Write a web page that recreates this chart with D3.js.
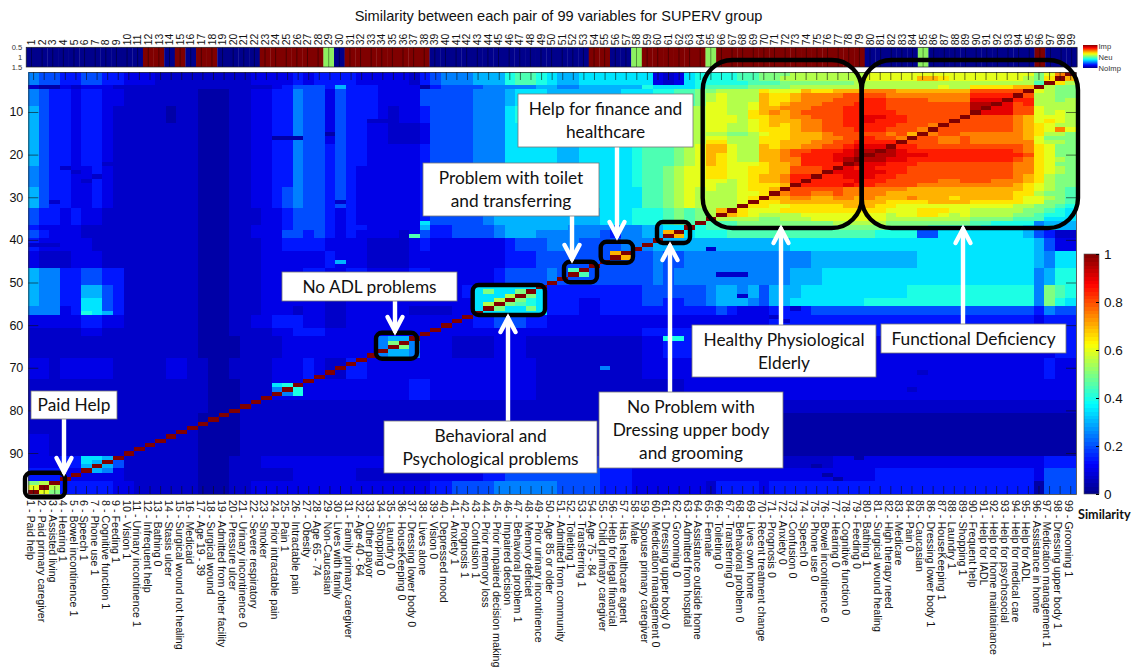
<!DOCTYPE html>
<html><head><meta charset="utf-8">
<script src="https://cdn.jsdelivr.net/npm/d3@7/dist/d3.min.js"></script>
<style>html,body{margin:0;padding:0;background:#fff}svg{display:block}</style>
</head><body><svg id="c" width="1141" height="670"></svg>
<script>
const titleText = "Similarity between each pair of 99 variables for SUPERV group";
const variableNames = ["Paid help","Paid primary caregiver","Assisted living","Hearing 1","Bowel incontinence 1","Speech 1","Phone use 1","Cognitive function 1","Feeding 1","Vision 1","Urinary incontinence 1","Infrequent help","Bathing 0","Stasis ulcer","Surgical wound not healing","Medicaid","Age 19 - 39","Surgical wound","Admitted from other facility","Pressure ulcer","Urinary incontinence 0","Severe respiratory","Smoker","Prior intractable pain","Pain 1","Intractable pain","Obesity","Age 65 - 74","Non-Caucasian","Lives with family","Family primary caregiver","Age 40 - 64","Other payor","Shopping 0","Laundry 0","HouseKeeping 0","Dressing lower body 0","Lives alone","Vision 0","Depressed mood","Anxiety 1","Prognosis 1","Confusion 1","Prior memory loss","Prior impaired decision making","Impaired decision","Behavioral problem 1","Memory deficiet","Prior urinary incontinence","Age 85 or older","Admitted from community","Toileting 1","Transferring 1","Age 75 - 84","Child primary caregiver","Help for legal financial","Has healthcare agent","Male","Spouse primary caregiver","Medication management 0","Dressing upper body 0","Grooming 0","Admitted from hospital","Assistance outside home","Female","Toileting 0","Transferring 0","Behavioral problem 0","Lives own home","Recent treatment change","Prognosis 0","Anxiety 0","Confusion 0","Speech 0","Phone use 0","Bowel incontinence 0","Hearing 0","Cognitive function 0","Feeding 0","Bathing 1","Surgical wound healing","High therapy need","Medicare","Pain 0","Caucasian","Dressing lower body 1","HouseKeeping 1","Laundry 1","Shopping 1","Frequent help","Help for IADL","Help for home maintainance","Help for psychosocial","Help for medical care","Help for ADL","Assistance in home","Medication management 1","Dressing upper body 1","Grooming 1"];
const importantVars = [12,13,15,17,18,23,24,25,26,27,28,31,32,33,34,35,36,37,38,54,55,59,60,61,62,63,64,66,67,68,69,70,71,72,73,74,75,76,77,78,79,96];
const neutralVars = [29,58,65,85];
const rowTicks = [10,20,30,40,50,60,70,80,90];
const barTicks = [0,0.2,0.4,0.6,0.8,1];
const levelChars = "0123456789abcdefghijk";
const lowestLevels = [0.035,0.07];

// rows 1-36, columns 1-64
const upperLeftStarts = [1,4,5,9,13,18,23,28,33];
const upperLeftBands = [
"5443344332 2211111111 1222232333 3222221345 5566689987 6677777772 1278",
"1002122211 1111111111 1112344436 3332222034 4445555566 5566666687 7778",
"5433233221 1111110001 1223354424 3332222444 4455567776 6666667778 899a",
"6433233211 1110110001 1223354424 3332122344 4455578887 6677777888 8abb",
"6433233211 1111110001 1223354424 3322111244 4455577777 6677777788 9abb",
"6433233211 1111110001 1223354434 3322222344 4455577777 6677777899 9abc",
"5433223211 1111110001 1223354434 3222222344 4455667766 6677777899 abcc",
"6433223211 1111110001 1223454434 3222222344 4455667766 6677777799 abcb",
"4332322111 1111110001 1122344432 3222222344 4445666666 6666777888 9a9a"];
// rows 1-36, columns 65-99, one string per row
const upperRightRows = [
"88899aaabbbbbbb cccccccccc ccccccacfk",
"88899aabbbbbbbb ccccceedcc cccccbadke",
"8888999aaaaaaab bbbbbbbbbb bbbbbb9kdb",
"9999aaaabbbbbbb bbbbbbbcbb ddddeekbaa",
"abbbbdccceddeee fffeeeeeee gggggkcbaa",
"bcbbbeddeffffgg ggffffffff hhhhkgbbaa",
"bcbbbeddefffggg hhggggffff iiikhhbbab",
"ccbbcedefffgggh hhgggggggg jjkighbbbb",
"ccbbceefffggghh hhgggggggg jkiiggcbbb",
"ccbbdefefgggghh hhhggggggg kiiiggcbcb",
"cccbddeeffggghh iihhgggggk ggggfecccb",
"cccbcdeeeffgghh ihhhggggkg ggggfecdcb",
"ccbbcdedeffgghh hhhgggfkgg ggggfedcbb",
"ccbbcdddeffgggh hhgggfkggg ggggfedcfc",
"bbaabcddeeefggg ggfgekfggf fffffedbba",
"ccbbbdddeeeffgg hggfkggffg fffffecaaa",
"ddbbbddeeeffggh hhhkgggffg ffffffcbba",
"eecbbedeeffgghi iikhhggggg gggggfdcaa",
"eecbbeefgghhhij jkjihhhhhh hhhhgfdcaa",
"edcbbeefghhhiij kjjiiihhhh hhhhhgdcaa",
"edcbbeeffhhhijk jjiihhhhhh hhhhgfdcba",
"edcccdeefhhhhkj iihhhggggg ggggffdcaa",
"ddccddeeggghkih ihhhgggggg ggggffdcba",
"ddccddeegggkiii iihhgggggg ggggffdcba",
"ddccdeefhhkhhii ihhggggggg ggggfedbaa",
"ccbcdeefhkhhhhi hhgggggffg ggfffedbaa",
"cbbcdddekhhhhih hggggfffff ffffedcbaa",
"cbbcddekgggggff ffffeeeeee eeeeedcba9",
"bbbccdkfggffgff ffeeeeeeee eeeeddbaa9",
"bbbcdkeeffeeffe feeefeeede eeeedccba9",
"bbbckddeeeeeeee eeddddeeee dddddccaa9",
"bbbkddccdddddee eddccccccc ccccbbaa98",
"bekdcccdddddddd ddcccdddcc bbbbbaa987",
"bkedcbbbbcccccc ccbccddcbc bbbbaa9887",
"kbbbbaabbbccccc ccbbbbbbbb aaaa999777",
"999aaaaaaaaabbb bbaaaaaaaa 9988885666"];
// rows 37-99, all columns
const lowerStarts = [37,38,40,43,47,51,54,56,58,61,63,68,73,78,81,86,91,94,97];
const lowerBands = [
"3222211111 1111110001 1222344432 3322222633 4444566666 6555545566 7788999aaa aaaaaaaaaa aaaaa99999 888875766",
"4322211111 1111110001 1222443432 3222212433 4444566655 5555435566 7778889999 9999999999 8888447777 777764311",
"3222221111 1111110001 1122333322 2211112322 2222234445 5544445556 6666666666 6677777777 7777777777 777776422",
"2111222111 1111110001 1122222232 2211112222 2222233344 4444444445 4455555555 5555666666 6666777777 777776577",
"6553344331 1111110001 1122223322 3322223322 2222344445 4444444445 4555555555 5566677777 7777777777 777775688",
"6553366431 1111110001 1122222211 2222223322 2377777773 3333333344 4444566564 6667777777 7778888888 888885a98",
"6553377431 1111110001 1122222211 2222222222 2277899873 3322333344 3344566654 6677777778 8888888888 888885a87",
"5552377431 1111110001 1122212211 2222221111 2277777773 3322333333 3333343222 3333444444 4444444444 444443544",
"2222233221 1111110001 1223332211 2222222222 2233444332 2222222222 2222222222 3333333333 3333333333 333332333",
"1111122111 1111110001 1112233322 2222222222 2222222222 2222222233 3333333333 3333333333 3333333333 333332333",
"1111111111 1111110000 1111222222 2225665222 1111222111 1111111122 3333222222 2222222222 2222222222 222222233",
"2212222211 1112211001 1112223211 3322222222 2222222211 1111111122 2222222222 2222222222 2222222222 222222322",
"1111111111 1111111000 1112222222 2222223322 2222222211 1111111111 1122222222 2222222222 2222222222 222222222",
"1111111111 1111111000 1111111111 1111111111 1111111111 1111111111 1111111111 1111111111 1111111111 111111111",
"1111111111 1111110000 1111111111 1111111111 1111111111 1111111100 1000000000 0000000000 0000000000 000000000",
"2211111111 1111110000 1111111111 1111111111 1111111111 1111111110 0000000000 0000000000 0000000000 000000000",
"2223366541 1111110001 1122222222 2222222222 2222333333 3333222222 2222222222 2111112222 2222222222 222222333",
"3332222221 1111110001 1111122222 2111111122 2223344444 4444333222 2222222222 2222222222 3333333333 333332444",
"aab3333322 1111110001 1222222222 2222222233 4444555555 4444333222 2222133332 3333333333 3333333333 333330444"];
// single cells read separately: row, column, level
const spotRows = [3,16,16,16,15,23,24,26,25,22,21,31,31,41,41,41,45,45,45,12,12,13,14,36,39,42,48,48,48,53,58,59,56,71,75,91,93,95,96,57,57,57,55,56,54,55,53,54,52,53,56,52,51,64,65,74,74,75,75,76,76,63,63,70,92,92,91,91,91,93,93,94,94,92,93,97,97,98,98,99,99,43,44,38,39,47,48];
const spotCols = [60,24,25,26,29,4,5,6,7,8,9,3,30,1,2,3,2,3,30,33,34,35,37,38,37,65,66,67,68,68,71,72,73,85,84,79,75,76,77,6,7,8,44,45,45,46,46,47,47,48,48,44,45,35,36,24,25,24,26,25,26,61,62,55,6,7,6,7,8,6,8,7,8,9,9,1,2,1,3,2,3,56,57,61,62,52,53];
const spotLevels = [2,0,0,0,0,1,1,1,1,1,1,1,1,1,1,1,1,1,6,1,1,1,1,7,9,1,1,1,1,1,1,1,1,1,1,0,0,0,0,8,7,6,11,10,11,10,11,10,10,10,10,10,7,10,10,7,8,5,8,5,8,8,8,5,7,6,7,7,6,6,6,6,5,4,4,10,11,12,11,12,10,14,14,14,14,9,9];

const cols = d3.range(1,100), rows = d3.range(1,100);
const strip = s => s.replace(/ /g,"");
const levelValue = l => l < lowestLevels.length ? lowestLevels[l] : l/20;
const matrix = rows.map(() => new Array(99).fill(0));
rows.forEach(r => {
  if (r <= 36) {
    const t = strip(upperLeftBands[d3.bisectRight(upperLeftStarts, r) - 1]);
    const u = strip(upperRightRows[r-1]);
    if (t.length !== 64 || u.length !== 35) throw new Error("row "+r);
    for (let i=0;i<64;i++) matrix[r-1][i] = levelValue(levelChars.indexOf(t[i]));
    for (let i=0;i<35;i++) matrix[r-1][64+i] = levelValue(levelChars.indexOf(u[i]));
  } else {
    const t = strip(lowerBands[d3.bisectRight(lowerStarts, r) - 1]);
    if (t.length !== 99) throw new Error("row "+r);
    for (let i=0;i<99;i++) matrix[r-1][i] = levelValue(levelChars.indexOf(t[i]));
  }
});
spotRows.forEach((r,i) => { matrix[r-1][spotCols[i]-1] = levelValue(spotLevels[i]); });
cols.forEach(c => { matrix[99-c][c-1] = 1; });

const svg = d3.select("#c");
const sans = "'Liberation Sans', Arial, sans-serif", note = "Lato, 'Open Sans', sans-serif";

const x = d3.scaleBand().domain(cols).range([28.3,1076]);
const y = d3.scaleBand().domain(rows).range([72,494]);
const stripX = d3.scaleBand().domain(cols).range([26.2,1077]);
const stripY = d3.scaleLinear().domain([0.5,1.5]).range([47.3,67]);
const jet = d3.scaleLinear().domain([0,0.125,0.375,0.625,0.875,1]).range(["#000085","#0000ff","#00ffff","#ffff00","#ff0000","#800000"]).clamp(true);

svg.append("text").attr("x",558.5).attr("y",21).attr("text-anchor","middle").attr("font-family",sans).attr("font-size",14.6).attr("fill","#111").text(titleText);

// importance strip
const stripColor = c => importantVars.includes(c) ? "#800000" : neutralVars.includes(c) ? "#8cf060" : "#00008c";
svg.append("g").selectAll("rect").data(cols).join("rect")
  .attr("x",c=>stripX(c)).attr("y",stripY(0.5)).attr("width",stripX.bandwidth()+0.3).attr("height",stripY(1.5)-stripY(0.5))
  .attr("fill",stripColor);
svg.append("g").selectAll("line").data(cols).join("line")
  .attr("x1",c=>stripX(c)+stripX.bandwidth()/2).attr("x2",c=>stripX(c)+stripX.bandwidth()/2)
  .attr("y1",stripY(0.5)).attr("y2",stripY(1.5)).attr("stroke","#000").attr("stroke-opacity",0.5).attr("stroke-width",0.8);
svg.append("rect").attr("x",26.2).attr("y",47.3).attr("width",1050.8).attr("height",19.7).attr("fill","none").attr("stroke","#222").attr("stroke-width",0.7);
const stripTop = svg.append("g").attr("transform","translate(0,47.3)").call(d3.axisTop(stripX).tickValues(cols).tickSize(0).tickPadding(2));
stripTop.select(".domain").remove();
stripTop.selectAll("text").attr("transform","rotate(-90)").attr("x",2).attr("y",0).attr("dy","0.35em").attr("text-anchor","start").attr("font-family",sans).attr("font-size",10.4).attr("fill","#111");
const stripLeft = svg.append("g").attr("transform","translate(26.2,0)").call(d3.axisLeft(stripY).tickValues([0.5,1,1.5]).tickFormat(d3.format("~g")).tickSize(0).tickPadding(4));
stripLeft.select(".domain").remove();
stripLeft.selectAll("text").attr("font-family",sans).attr("font-size",7.6).attr("fill","#333");

// legend of the strip
const legendGrad = svg.append("defs").append("linearGradient").attr("id","lg").attr("x1",0).attr("x2",0).attr("y1",1).attr("y2",0);
d3.range(0,1.01,0.05).forEach(v => legendGrad.append("stop").attr("offset",v).attr("stop-color",jet(v)));
svg.select("defs").append("filter").attr("id","soft").attr("x","0").attr("y","0").attr("width","1").attr("height","1")
  .append("feGaussianBlur").attr("stdDeviation",0.6).attr("edgeMode","duplicate");
svg.append("rect").attr("x",1083).attr("y",45).attr("width",14.5).attr("height",23).attr("fill","url(#lg)");
[["Imp",49],["Neu",60],["NoImp",71]].forEach(([t,py]) => svg.append("text").attr("x",1098.5).attr("y",py).attr("font-family",sans).attr("font-size",7.6).attr("fill","#333").text(t));

// heat map
const cells = rows.flatMap(r => cols.map(c => ({r,c,v:matrix[r-1][c-1]})));
svg.append("g").attr("shape-rendering","crispEdges").attr("filter","url(#soft)").selectAll("rect").data(cells).join("rect")
  .attr("x",d=>x(d.c)).attr("y",d=>y(d.r)).attr("width",x.bandwidth()+0.4).attr("height",y.bandwidth()+0.4)
  .attr("fill",d=>jet(d.v));

// axes with inward ticks
const axisStyle = g => { g.select(".domain").attr("stroke","#333").attr("stroke-width",0.8); g.selectAll(".tick line").attr("stroke","#111").attr("stroke-opacity",0.75).attr("stroke-width",0.8); };
svg.append("g").attr("transform","translate(0,72)").call(d3.axisTop(x).tickValues(cols).tickFormat("").tickSizeInner(-8).tickSizeOuter(0)).call(axisStyle);
const bottom = svg.append("g").attr("transform","translate(0,494)").call(d3.axisBottom(x).tickValues(cols).tickFormat(c=>c+" - "+variableNames[c-1]).tickSizeInner(-8).tickSizeOuter(0)).call(axisStyle);
bottom.selectAll("text").attr("transform","rotate(90)").attr("x",6).attr("y",2.4).attr("dy","0.35em").attr("text-anchor","start").attr("font-family",sans).attr("font-size",10.7).attr("fill","#111");
const left = svg.append("g").attr("transform","translate(28.3,0)").call(d3.axisLeft(y).tickValues(rowTicks).tickSizeInner(-10).tickSizeOuter(0).tickPadding(5)).call(axisStyle);
left.selectAll("text").attr("font-family",sans).attr("font-size",12.5).attr("fill","#111");
svg.append("g").attr("transform","translate(1076,0)").call(d3.axisRight(y).tickValues(rowTicks).tickFormat("").tickSizeInner(-10).tickSizeOuter(0)).call(axisStyle);

// colour bar
const barY = d3.scaleLinear().domain([0,1]).range([494,254]);
const barSteps = d3.range(0,64).map(i => i/64);
svg.append("g").attr("shape-rendering","crispEdges").selectAll("rect").data(barSteps).join("rect")
  .attr("x",1084).attr("width",15).attr("y",d=>barY(d+1/64)).attr("height",barY(0)-barY(1/64)+0.4).attr("fill",d=>jet(d+1/128));
svg.append("rect").attr("x",1084).attr("y",254).attr("width",15).attr("height",240).attr("fill","none").attr("stroke","#555").attr("stroke-width",0.6);
const barAxis = svg.append("g").attr("transform","translate(1099,0)").call(d3.axisRight(barY).tickValues(barTicks).tickFormat(d3.format("~g")).tickSizeInner(-3).tickSizeOuter(0).tickPadding(5));
barAxis.select(".domain").remove();
barAxis.selectAll("text").attr("font-family",sans).attr("font-size",13.5).attr("fill","#111");
svg.append("text").attr("x",1078).attr("y",519).attr("font-family",note).attr("font-weight",700).attr("font-size",12.6).attr("fill","#111").text("Similarity");

// annotations
const outlines = [[702.7,60,159,168,30],[861.7,60,216.3,168,30],[25,472.7,40,24.5,6],[376,332.7,41,26,6],[472.7,285,72.3,30,6],[564,261.7,33,20.5,6],[600.7,241.7,32.3,21,6],[657,222,33,21,6]];
svg.append("g").selectAll("rect").data(outlines).join("rect")
  .attr("x",d=>d[0]).attr("y",d=>d[1]).attr("width",d=>d[2]).attr("height",d=>d[3]).attr("rx",d=>d[4])
  .attr("fill","none").attr("stroke","#000").attr("stroke-width",4.4);
const arrows = [[64,419,472],[395,301,331],[508,421,318],[572,216,259],[617,147,236],[670,392,246],[781,325,229],[963,324,229]];
const ag = svg.append("g").attr("stroke","#fff").attr("stroke-width",4.4).attr("fill","none").attr("stroke-linecap","round");
arrows.forEach(([ax,y0,y1]) => {
  const dir = y1 > y0 ? 1 : -1;
  ag.append("line").attr("x1",ax).attr("x2",ax).attr("y1",y0).attr("y2",y1);
  ag.append("path").attr("d",`M${ax-7.5},${y1-dir*14} L${ax},${y1} L${ax+7.5},${y1-dir*14}`);
});
const boxes = [
 [518,94,175,53,["Help for finance and","healthcare"]],
 [423,163,176,53,["Problem with toilet","and transferring"]],
 [282,272,175,29,["No ADL problems"]],
 [31,391,86,28,["Paid Help"]],
 [384,421,213,52,["Behavioral and","Psychological problems"]],
 [599,392,184,76,["No Problem with","Dressing upper body","and grooming"]],
 [692,325,184,52,["Healthy Physiological","Elderly"]],
 [881,324,185,29,["Functional Deficiency"]]];
const bg = svg.append("g");
boxes.forEach(([bx,by,bw,bh,lines]) => {
  bg.append("rect").attr("x",bx).attr("y",by).attr("width",bw).attr("height",bh).attr("fill","#fff").attr("stroke","#777").attr("stroke-width",0.8);
  const lh = 23, startY = by + bh/2 - (lines.length-1)*lh/2;
  lines.forEach((t,i) => bg.append("text").attr("x",bx+bw/2).attr("y",startY+i*lh).attr("dy","0.35em").attr("text-anchor","middle").attr("font-family",note).attr("font-size",17.3).attr("fill","#111").text(t));
});
</script></body></html>
